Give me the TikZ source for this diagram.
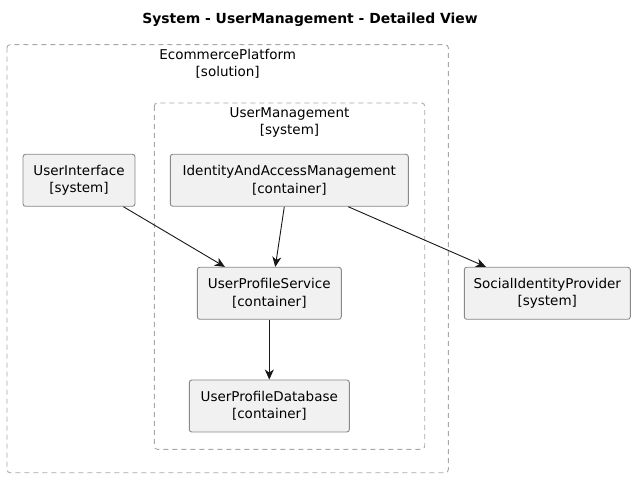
\documentclass[tikz,border=0pt]{standalone}
\usepackage{fontspec}
\setmainfont{DejaVu Sans}
\usetikzlibrary{arrows.meta,calc}
\definecolor{boxfill}{HTML}{F1F1F1}
\definecolor{boxline}{HTML}{888888}
\definecolor{dashline}{HTML}{A8A8A8}
\definecolor{arrline}{HTML}{181818}
\tikzset{
  elem/.style={draw=boxline, line width=0.9pt, fill=boxfill, rounded corners=2.5pt,
    align=center, inner sep=0pt, minimum height=52pt,
    font=\fontsize{13.5}{17.3}\selectfont},
  grp/.style={draw=dashline, line width=0.9pt, dash pattern=on 5pt off 4pt, rounded corners=3pt},
  grplabel/.style={align=center, inner sep=0pt, font=\fontsize{13.5}{17}\selectfont},
  arr/.style={draw=arrline, line width=0.9pt, -{Stealth[length=10pt,width=9pt,inset=3pt]}}
}
\begin{document}
\begin{tikzpicture}[x=1pt,y=-1pt]
\useasboundingbox[fill=white] (0,0) rectangle (635,478);
\node[font=\bfseries\fontsize{13.9}{16}\selectfont, inner sep=0pt] (title) at (310,20) {System - UserManagement - Detailed View};
% groups
\draw[grp] (7,44.7) rectangle (448.3,472.7);
\node[grplabel] (ecl) at (227.7,64) {EcommercePlatform\\{[solution]}};
\draw[grp] (154.3,103) rectangle (424.7,449.3);
\node[grplabel] (uml) at (289.5,122.5) {UserManagement\\{[system]}};
% elements
\node[elem, minimum width=112pt] (ui) at (79,180.3) {UserInterface\\{[system]}};
\node[elem, minimum width=238pt] (iam) at (289.3,180.3) {IdentityAndAccessManagement\\{[container]}};
\node[elem, minimum width=144pt] (ups) at (269.3,293.3) {UserProfileService\\{[container]}};
\node[elem, minimum width=160pt] (upd) at (269.3,406) {UserProfileDatabase\\{[container]}};
\node[elem, minimum width=166pt] (sip) at (547.3,293.3) {SocialIdentityProvider\\{[system]}};
% connectors
\draw[arr] ([xshift=-12pt]ui.south east) -- ([xshift=28pt]ups.north west);
\draw[arr] ([xshift=-5pt]iam.south) -- ([xshift=6pt]ups.north);
\draw[arr] ([xshift=59pt]iam.south) -- ([xshift=22pt]sip.north west);
\draw[arr] (ups.south) -- (upd.north);
\end{tikzpicture}
\end{document}
